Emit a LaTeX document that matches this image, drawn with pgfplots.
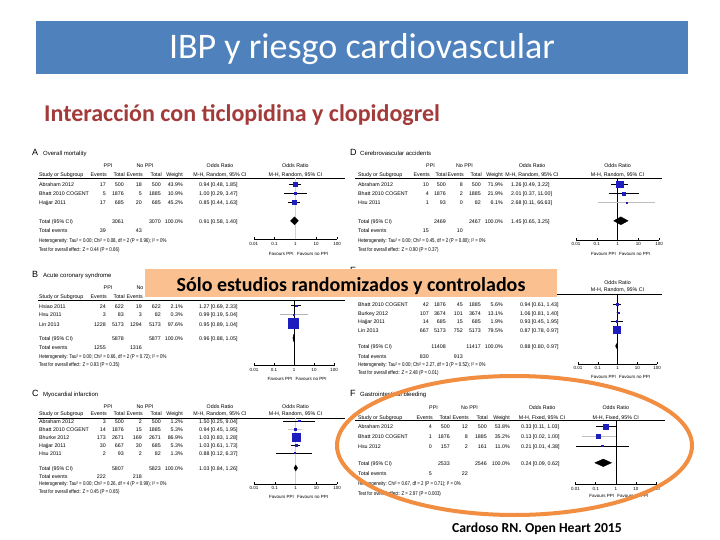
\documentclass[border=0pt]{standalone}
\usepackage{pgfplots}
\pgfplotsset{compat=1.18}
\usepackage{fontspec}
\setmainfont{Carlito}
\newfontfamily\arial{Liberation Sans}
\newfontfamily\arialn[FakeStretch=0.8]{Liberation Sans}

\definecolor{titleblue}{RGB}{79,129,189}
\definecolor{subred}{RGB}{163,59,59}
\definecolor{boxorange}{RGB}{250,192,144}
\definecolor{ellorange}{RGB}{242,142,66}
\definecolor{sqblue}{RGB}{30,30,190}

\newcommand{\tabf}{\arial\fontsize{5.3}{6.3}\selectfont}
\newcommand{\footf}{\arialn\fontsize{5.5}{6.5}\selectfont}
\newcommand{\tickf}{\arial\fontsize{4.5}{5.5}\selectfont}
\newcommand{\letf}{\arial\fontsize{9}{10}\selectfont}
\newcommand{\ttlf}{\arial\fontsize{6}{7}\selectfont}

\pgfplotsset{
  fb/.style={
    anchor=south west, scale only axis,
    xmin=0.01, xmax=100,
    axis x line*=bottom, axis y line=none,
    x axis line style={-}, axis line style={line width=0.4pt},
    xtick={0.01,0.1,1,10,100}, xticklabels={0.01,0.1,1,10,100},
    xminorticks=false,
    xtick align=inside, major tick length=2.5pt,
    tick style={black, line width=0.4pt},
    xticklabel style={font=\tickf, inner sep=0pt, yshift=-2.5pt},
    clip=false,
  }
}

% forest plot elements
\newcommand{\ci}[4][black]{\addplot[#1, line width=0.45pt, mark=none, forget plot] coordinates {(#3,#2) (#4,#2)};}
\newcommand{\sq}[3]{\addplot[only marks, mark=square*, mark size=#3pt, sqblue, forget plot] coordinates {(#2,#1)};}
\newcommand{\dia}[6]{\addplot[fill=black, draw=black, line width=0.3pt, mark=none, forget plot] coordinates {(#4,#1) (#3,#2) (#5,#1) (#3,#6) (#4,#1)};}
\newcommand{\nullline}[3][black]{\addplot[#1, line width=0.45pt, mark=none, forget plot] coordinates {(1,#2) (1,#3)};}

% table elements
\newcommand{\setcols}[7]{\def\cN{#1}\def\cEa{#2}\def\cTa{#3}\def\cEb{#4}\def\cTb{#5}\def\cW{#6}\def\cOR{#7}}
\newcommand{\trow}[8]{%
 \node[anchor=mid west] at (\cN,#1) {#2};
 \node[anchor=mid east] at (\cEa,#1) {#3};
 \node[anchor=mid east] at (\cTa,#1) {#4};
 \node[anchor=mid east] at (\cEb,#1) {#5};
 \node[anchor=mid east] at (\cTb,#1) {#6};
 \node[anchor=mid east] at (\cW,#1) {#7};
 \node[anchor=mid west] at (\cOR,#1) {#8};}
\newcommand{\hdr}[9]{%
 \node[anchor=mid] at (#6,#1) {PPI};
 \node[anchor=mid] at (#7,#1) {No PPI};
 \node[anchor=mid] at (\cOR+21,#1) {Odds Ratio};
 \node[anchor=mid] at (#9,#1) {Odds Ratio};
 \node[anchor=mid west] at (\cN,#2) {Study or Subgroup};
 \node[anchor=mid east] at (\cEa+1,#2) {Events};
 \node[anchor=mid east] at (\cTa+1,#2) {Total};
 \node[anchor=mid east] at (\cEb+1,#2) {Events};
 \node[anchor=mid east] at (\cTb+1,#2) {Total};
 \node[anchor=mid east] at (\cW,#2) {Weight};
 \node[anchor=mid] at (\cOR+21,#2) {M-H, #8, 95\% CI};
 \node[anchor=mid] at (#9,#2) {M-H, #8, 95\% CI};
 \draw[line width=0.5pt] (#4,#3) -- (#5,#3);}
\newcommand{\foot}[2]{%
 \node[anchor=mid west, font=\footf] at (\cN,#1) {#2};}
\newcommand{\fav}[2]{%
 \node[anchor=mid east, font=\tickf] at (#1-1.5,#2) {Favours PPI};
 \node[anchor=mid west, font=\tickf] at (#1+1.5,#2) {Favours no PPI};}

\begin{document}
\begin{tikzpicture}[x=1pt,y=1pt]
\useasboundingbox (0,0) rectangle (720,-540);
\fill[white] (0,0) rectangle (720,-540);

\begin{scope}[yscale=-1]
\fill[titleblue] (36,21.5) rectangle (688,73.7);
\node[anchor=base, inner sep=0pt, text=white, font=\fontsize{36}{40}\selectfont] at (362,59) {IBP y riesgo cardiovascular};
\node[anchor=base west, inner sep=0pt, text=subred, font=\bfseries\fontsize{24}{28}\selectfont] at (44,122) {Interacción con ticlopidina y clopidogrel};
\end{scope}

\begin{scope}[yscale=-1, every node/.style={inner sep=0pt, font=\tabf}]
% ---------- Panel A
\node[anchor=mid west, font=\letf] at (32,153) {A};
\node[anchor=mid west, font=\ttlf] at (43,153) {Overall mortality};
\setcols{39}{106}{124}{142}{161}{183}{199}
\hdr{164.7}{174}{178.3}{38}{345}{108}{145}{Random}{295.4}
\trow{184.3}{Abraham 2012}{17}{500}{18}{500}{43.9\%}{0.94 [0.48, 1.85]}
\trow{193.3}{Bhatt 2010 COGENT}{5}{1876}{5}{1885}{10.9\%}{1.00 [0.29, 3.47]}
\trow{202.6}{Hajjar 2011}{17}{685}{20}{685}{45.2\%}{0.85 [0.44, 1.63]}
\trow{220.8}{Total (95\% CI)}{}{3061}{}{3070}{100.0\%}{0.91 [0.58, 1.40]}
\trow{230.6}{Total events}{39}{}{43}{}{}{}
\foot{240.3}{Heterogeneity: Tau² = 0.00; Chi² = 0.08, df = 2 (P = 0.96); I² = 0\%}
\foot{248.7}{Test for overall effect: Z = 0.44 (P = 0.66)}
\fav{295.4}{253}
% ---------- Panel B (header partly hidden by the banner)
\node[anchor=mid west, font=\letf] at (32,275) {B};
\node[anchor=mid west, font=\ttlf] at (43,275) {Acute coronary syndrome};
\node[anchor=mid] at (108,287.3) {PPI};
\node[anchor=mid] at (145,287.3) {No PPI};
\node[anchor=mid west] at (\cN,296.3) {Study or Subgroup};
\node[anchor=mid east] at (107,296.3) {Events};
\node[anchor=mid east] at (125,296.3) {Total};
\node[anchor=mid east] at (143,296.3) {Events};
\draw[line width=0.5pt] (38,300.5) -- (345,300.5);
\trow{305.7}{Hsiao 2011}{24}{622}{19}{622}{2.1\%}{1.27 [0.69, 2.33]}
\trow{314.5}{Hsu 2011}{3}{83}{3}{82}{0.3\%}{0.99 [0.19, 5.04]}
\trow{323.7}{Lin 2013}{1228}{5173}{1294}{5173}{97.6\%}{0.95 [0.89, 1.04]}
\trow{338}{Total (95\% CI)}{}{5878}{}{5877}{100.0\%}{0.96 [0.88, 1.05]}
\trow{347.5}{Total events}{1255}{}{1316}{}{}{}
\foot{356.5}{Heterogeneity: Tau² = 0.00; Chi² = 0.66, df = 2 (P = 0.72); I² = 0\%}
\foot{364.5}{Test for overall effect: Z = 0.93 (P = 0.35)}
\fav{294}{378}
% ---------- Panel C
\node[anchor=mid west, font=\letf] at (32,394.5) {C};
\node[anchor=mid west, font=\ttlf] at (43,394.5) {Myocardial infarction};
\hdr{406.2}{413.5}{417.8}{38}{345}{108}{145}{Random}{295.5}
\trow{421}{Abraham 2012}{3}{500}{2}{500}{1.2\%}{1.50 [0.25, 9.04]}
\trow{429}{Bhatt 2010 COGENT}{14}{1876}{15}{1885}{5.3\%}{0.94 [0.45, 1.95]}
\trow{437}{Bhurke 2012}{173}{2671}{169}{2671}{86.9\%}{1.03 [0.83, 1.28]}
\trow{445}{Hajjar 2011}{30}{667}{30}{685}{5.3\%}{1.03 [0.61, 1.73]}
\trow{453}{Hsu 2011}{2}{93}{2}{82}{1.3\%}{0.88 [0.12, 6.37]}
\trow{468}{Total (95\% CI)}{}{5807}{}{5823}{100.0\%}{1.03 [0.84, 1.26]}
\trow{476}{Total events}{222}{}{218}{}{}{}
\foot{483.5}{Heterogeneity: Tau² = 0.00; Chi² = 0.26, df = 4 (P = 0.99); I² = 0\%}
\foot{491}{Test for overall effect: Z = 0.45 (P = 0.65)}
\fav{295.5}{496}
% ---------- Panel D
\node[anchor=mid west, font=\letf] at (350,153) {D};
\node[anchor=mid west, font=\ttlf] at (360,153) {Cerebrovascular accidents};
\setcols{358}{429}{446}{463}{481}{503}{511}
\hdr{164.7}{174}{178.3}{355}{662}{430.5}{464.5}{Random}{617.5}
\trow{184.3}{Abraham 2012}{10}{500}{8}{500}{71.9\%}{1.26 [0.49, 3.22]}
\trow{193.3}{Bhatt 2010 COGENT}{4}{1876}{2}{1885}{21.9\%}{2.01 [0.37, 11.00]}
\trow{202.6}{Hsu 2011}{1}{93}{0}{82}{6.1\%}{2.68 [0.11, 66.63]}
\trow{220.8}{Total (95\% CI)}{}{2469}{}{2467}{100.0\%}{1.45 [0.65, 3.25]}
\trow{230.6}{Total events}{15}{}{10}{}{}{}
\foot{240.3}{Heterogeneity: Tau² = 0.00; Chi² = 0.45, df = 2 (P = 0.80); I² = 0\%}
\foot{248.7}{Test for overall effect: Z = 0.90 (P = 0.37)}
\fav{617.5}{253}
% ---------- Panel E (header hidden by the banner)
\node[anchor=mid west, font=\letf] at (350,271.5) {E};
\setcols{358}{429}{446}{463}{481}{503}{520}
\node[anchor=mid] at (617.5,282) {Odds Ratio};
\node[anchor=mid] at (617.5,289.5) {M-H, Random, 95\% CI};
\draw[line width=0.5pt] (355,294) -- (662,294);
\trow{304.5}{Bhatt 2010 COGENT}{42}{1876}{45}{1885}{5.6\%}{0.94 [0.61, 1.43]}
\trow{312.7}{Burkey 2012}{107}{3674}{101}{3674}{13.1\%}{1.06 [0.81, 1.40]}
\trow{321.2}{Hajjar 2011}{14}{685}{15}{685}{1.9\%}{0.93 [0.45, 1.95]}
\trow{330}{Lin 2013}{667}{5173}{752}{5173}{79.5\%}{0.87 [0.78, 0.97]}
\trow{346}{Total (95\% CI)}{}{11408}{}{11417}{100.0\%}{0.88 [0.80, 0.97]}
\trow{356}{Total events}{830}{}{913}{}{}{}
\foot{364.5}{Heterogeneity: Tau² = 0.00; Chi² = 2.27, df = 3 (P = 0.52); I² = 0\%}
\foot{372}{Test for overall effect: Z = 2.48 (P = 0.01)}
\fav{617.5}{376}
% ---------- Panel F
\node[anchor=mid west, font=\letf] at (350,394.5) {F};
\node[anchor=mid west, font=\ttlf] at (360,394.5) {Gastrointestinal bleeding};
\setcols{358}{432}{450}{468}{487}{510}{521}
\hdr{407}{416.7}{420.5}{355}{665}{433.5}{469.5}{Fixed}{615.75}
\trow{426.6}{Abraham 2012}{4}{500}{12}{500}{53.8\%}{0.33 [0.11, 1.03]}
\trow{436}{Bhatt 2010 COGENT}{1}{1876}{8}{1885}{35.2\%}{0.13 [0.02, 1.00]}
\trow{445.8}{Hsu 2012}{0}{157}{2}{161}{11.0\%}{0.21 [0.01, 4.38]}
\trow{462.8}{Total (95\% CI)}{}{2533}{}{2546}{100.0\%}{0.24 [0.09, 0.62]}
\trow{473.3}{Total events}{5}{}{22}{}{}{}
\foot{483}{Heterogeneity: Chi² = 0.67, df = 2 (P = 0.71); I² = 0\%}
\foot{492.8}{Test for overall effect: Z = 2.97 (P = 0.003)}
\fav{615.75}{495.5}
\end{scope}

% ---------- forest plots
\begin{axis}[xmode=log, fb, at={(253.8pt,-239.5pt)}, width=83.2pt, height=61.2pt, ymin=-239.5, ymax=-178.3]
 \nullline[gray!35]{-239.5}{-178.3}
 \ci{-184.3}{0.48}{1.85} \sq{-184.3}{0.94}{2}
 \ci{-193.3}{0.29}{3.47} \sq{-193.3}{1.00}{0.8}
 \ci{-202.6}{0.44}{1.63} \sq{-202.6}{0.85}{2}
 \dia{-220.8}{-216.8}{0.91}{0.58}{1.40}{-224.8}
\end{axis}
\begin{axis}[xmode=log, fb, at={(254pt,-365.5pt)}, width=80pt, height=65pt, ymin=-365.5, ymax=-300.5]
 \nullline{-365.5}{-300.5}
 \ci{-305.7}{0.69}{2.33} \sq{-305.7}{1.27}{0.8}
 \ci[gray!60]{-314.5}{0.19}{5.04} \sq{-314.5}{0.99}{0.4}
 \ci{-323.7}{0.89}{1.04} \sq{-323.7}{0.95}{5}
 \dia{-338}{-334.5}{0.96}{0.88}{1.05}{-341.5}
\end{axis}
\begin{axis}[xmode=log, fb, at={(254pt,-484pt)}, width=83pt, height=66.2pt, ymin=-484, ymax=-417.8]
 \nullline[gray!35]{-484}{-417.8}
 \ci{-421}{0.25}{9.04} \sq{-421}{1.50}{0.6}
 \ci[gray!45]{-429}{0.45}{1.95} \sq{-429}{0.94}{1.0}
 \ci{-437}{0.83}{1.28} \sq{-437}{1.03}{4}
 \ci{-445}{0.61}{1.73} \sq{-445}{1.03}{1.0}
 \ci{-453}{0.12}{6.37} \sq{-453}{0.88}{0.6}
 \dia{-468}{-465}{1.03}{0.84}{1.26}{-471}
\end{axis}
\begin{axis}[xmode=log, fb, at={(576pt,-240pt)}, width=83pt, height=61.7pt, ymin=-240, ymax=-178.3]
 \nullline{-240}{-178.3}
 \ci{-184.3}{0.49}{3.22} \sq{-184.3}{1.26}{3.3}
 \ci{-193.3}{0.37}{11.00} \sq{-193.3}{2.01}{1.5}
 \ci[gray!50]{-202.6}{0.11}{66.63} \sq{-202.6}{2.68}{0.6}
 \dia{-220.8}{-216.8}{1.45}{0.65}{3.25}{-224.8}
\end{axis}
\begin{axis}[xmode=log, fb, at={(578pt,-364pt)}, width=79pt, height=70pt, ymin=-364, ymax=-294]
 \nullline{-364}{-294}
 \ci{-304.5}{0.61}{1.43} \sq{-304.5}{0.94}{0.9}
 \ci[gray!50]{-312.7}{0.81}{1.40} \sq{-312.7}{1.06}{0.9}
 \ci{-321.2}{0.45}{1.95} \sq{-321.2}{0.93}{0.7}
 \ci{-330}{0.78}{0.97} \sq{-330}{0.87}{3.5}
 \dia{-346}{-343.5}{0.88}{0.80}{0.97}{-348.5}
\end{axis}
\begin{axis}[xmode=log, fb, at={(575.5pt,-484.5pt)}, width=80.5pt, height=64pt, ymin=-484.5, ymax=-420.5]
 \nullline{-484.5}{-420.5}
 \ci{-426.6}{0.11}{1.03} \sq{-426.6}{0.33}{2.6}
 \ci[gray!50]{-436}{0.02}{1.00} \sq{-436}{0.13}{1.8}
 \ci{-445.8}{0.01}{4.38} \sq{-445.8}{0.21}{0.7}
 \dia{-462.8}{-459}{0.24}{0.09}{0.62}{-466.6}
\end{axis}

% ---------- overlays
\begin{scope}[yscale=-1]
\fill[boxorange] (145,269) rectangle (557,297);
\node[anchor=base, inner sep=0pt, font=\bfseries\fontsize{20}{24}\selectfont] at (351,291) {Sólo estudios randomizados y controlados};
\draw[ellorange, line width=4pt] (514.5,445.5) ellipse [x radius=177.5pt, y radius=69.5pt];
\node[anchor=base west, inner sep=0pt, font=\bfseries\fontsize{13.7}{16}\selectfont] at (452,532) {Cardoso RN. Open Heart 2015};
\end{scope}
\end{tikzpicture}
\end{document}
